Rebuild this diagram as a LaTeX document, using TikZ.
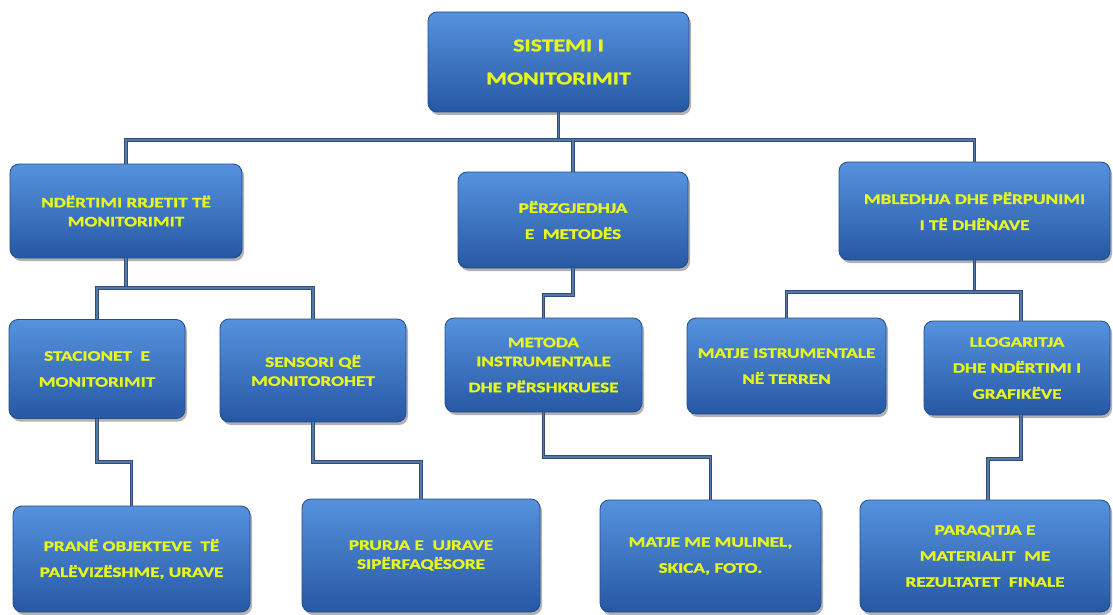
\documentclass[tikz,border=0pt]{standalone}
\usepackage{fontspec}
\setmainfont{Carlito}[FakeStretch=1.32, BoldFeatures={FakeBold=1.4}]
\usetikzlibrary{shadows}

\definecolor{boxtop}{RGB}{86,146,222}
\definecolor{boxmid}{RGB}{56,118,200}
\definecolor{boxbot}{RGB}{38,88,164}
\definecolor{boxline}{RGB}{36,76,136}
\definecolor{boxtext}{RGB}{232,246,30}
\definecolor{wireedge}{RGB}{50,78,120}
\definecolor{wirefill}{RGB}{84,120,168}

\begin{document}
\begin{tikzpicture}[x=1pt,y=-1pt,
  box/.style={rounded corners=9pt, draw=boxline, line width=0.8pt,
    top color=boxtop, middle color=boxmid, bottom color=boxbot,
    drop shadow={shadow xshift=2pt, shadow yshift=-3pt, opacity=0.3, fill=black},
    inner sep=0pt, align=center, text=boxtext,
    font=\bfseries\fontsize{14.5}{26}\selectfont},
  tight/.style={font=\bfseries\fontsize{14.5}{19}\selectfont},
  wire/.style={draw=wireedge, line width=0.9pt, double=wirefill,
    double distance=1.6pt}]
\useasboundingbox[fill=white] (0,0) rectangle (1113,615);

% top of the tree
\node[box, minimum width=261pt, minimum height=100pt,
  font=\bfseries\fontsize{18}{33}\selectfont] (root) at (558.5,62)
  {SISTEMI I\\MONITORIMIT};

% second level
\node[box, tight, minimum width=232pt, minimum height=94pt] (A) at (126,211)
  {NDËRTIMI RRJETIT TË\\MONITORIMIT};
\node[box, minimum width=230pt, minimum height=96pt] (B) at (573,220)
  {PËRZGJEDHJA\\E\ \ METODËS};
\node[box, minimum width=271pt, minimum height=98pt] (C) at (974.5,211)
  {MBLEDHJA DHE PËRPUNIMI\\I TË DHËNAVE};

% third level
\node[box, minimum width=176pt, minimum height=99pt] (D) at (97,369)
  {STACIONET\ \ E\\MONITORIMIT};
\node[box, tight, minimum width=186pt, minimum height=103pt] (E) at (313,370.5)
  {SENSORI QË\\MONITOROHET};
\node[box, minimum width=197pt, minimum height=94pt] (F) at (543.5,365)
  {METODA\\[-7pt]INSTRUMENTALE\\DHE PËRSHKRUESE};
\node[box, minimum width=199pt, minimum height=96pt] (G) at (786.5,366)
  {MATJE ISTRUMENTALE\\NË TERREN};
\node[box, minimum width=186pt, minimum height=94pt] (H) at (1017,368)
  {LLOGARITJA\\DHE NDËRTIMI I\\GRAFIKËVE};

% bottom level
\node[box, minimum width=237pt, minimum height=106pt] (I) at (131.5,559)
  {PRANË OBJEKTEVE\ \ TË\\PALËVIZËSHME, URAVE};
\node[box, tight, minimum width=238pt, minimum height=113pt] (J) at (421,555.5)
  {PRURJA E\ \ UJRAVE\\SIPËRFAQËSORE};
\node[box, minimum width=221pt, minimum height=112pt] (K) at (710.5,556)
  {MATJE ME MULINEL,\\SKICA, FOTO.};
\node[box, minimum width=250pt, minimum height=112pt] (L) at (985,556)
  {PARAQITJA E\\MATERIALIT\ \ ME\\REZULTATET\ \ FINALE};

% horizontal runs of the connectors
\coordinate (bus1) at (0,140);
\coordinate (busA) at (0,288);
\coordinate (busB) at (0,295);
\coordinate (busC) at (0,292);
\coordinate (busD) at (0,462);
\coordinate (busF) at (0,457);
\coordinate (busH) at (0,459);

% root to second level
\draw[wire] (root.south) -- (root.south |- bus1);
\draw[wire] (A.north) -- (A.north |- bus1) -- (C.north |- bus1) -- (C.north);
\draw[wire] (B.north) -- (B.north |- bus1);

% second level to third level
\draw[wire] (A.south) -- (A.south |- busA);
\draw[wire] (D.north) -- (D.north |- busA) -- (E.north |- busA) -- (E.north);
\draw[wire] (B.south) -- (B.south |- busB) -- (F.north |- busB) -- (F.north);
\draw[wire] (C.south) -- (C.south |- busC);
\draw[wire] (G.north) -- (G.north |- busC) -- ([xshift=4pt]H.north |- busC)
  -- ([xshift=4pt]H.north);

% third level to bottom level
\draw[wire] (D.south) -- (D.south |- busD) -- (I.north |- busD) -- (I.north);
\draw[wire] (E.south) -- (E.south |- busD) -- (J.north |- busD) -- (J.north);
\draw[wire] (F.south) -- (F.south |- busF) -- (K.north |- busF) -- (K.north);
\draw[wire] ([xshift=4pt]H.south) -- ([xshift=4pt]H.south |- busH)
  -- ([xshift=3pt]L.north |- busH) -- ([xshift=3pt]L.north);
\end{tikzpicture}
\end{document}
